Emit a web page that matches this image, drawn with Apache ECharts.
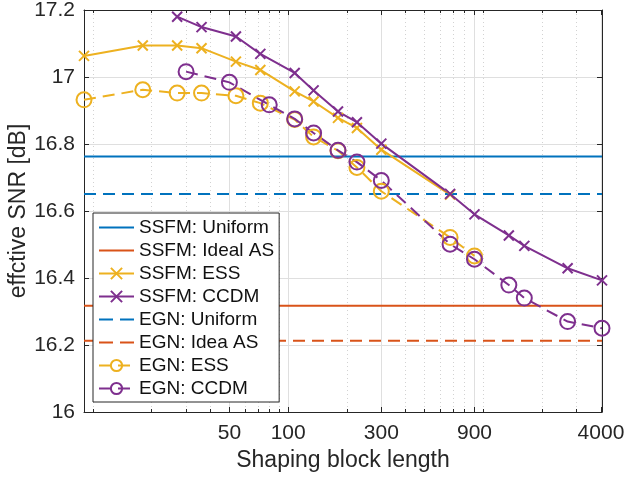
<!DOCTYPE html>
<html>
<head>
<meta charset="utf-8">
<script src="https://cdn.jsdelivr.net/npm/echarts@6/dist/echarts.min.js"></script>
<style>
html, body { margin: 0; padding: 0; background: #fff; }
#chart { width: 628px; height: 478px; }
</style>
</head>
<body>
<div id="chart"></div>
<script>
// block lengths and SNR values
const xRange = [9, 4050];
const majorTicks = [50, 100, 300, 900, 4000];
const minorTicks = [10, 20, 30, 40, 60, 70, 80, 90, 200, 400, 500, 600, 700, 800, 1000, 2000, 3000];

const ssfmUniform = 16.763;
const ssfmIdeal = 16.317;
const egnUniform = 16.651;
const egnIdeal = 16.213;

const ssfmEssLen = [9, 18, 27, 36, 54, 72, 108, 135, 180, 225, 300, 675];
const ssfmEss = [17.063, 17.094, 17.094, 17.086, 17.046, 17.021, 16.957, 16.927, 16.878, 16.848, 16.783, 16.649];

const ssfmCcdmLen = [27, 36, 54, 72, 108, 135, 180, 225, 300, 675, 900, 1350, 1620, 2700, 4050];
const ssfmCcdm = [17.180, 17.149, 17.121, 17.069, 17.012, 16.960, 16.897, 16.865, 16.801, 16.651, 16.590, 16.527, 16.496, 16.429, 16.393];

const egnEssLen = [9, 18, 27, 36, 54, 72, 108, 135, 180, 225, 300, 675, 900];
const egnEss = [16.932, 16.962, 16.952, 16.952, 16.944, 16.922, 16.873, 16.821, 16.780, 16.730, 16.659, 16.521, 16.466];

const egnCcdmLen = [30, 50, 80, 108, 135, 180, 225, 300, 675, 900, 1350, 1620, 2700, 4050];
const egnCcdm = [17.016, 16.984, 16.917, 16.875, 16.833, 16.781, 16.746, 16.691, 16.501, 16.456, 16.379, 16.340, 16.270, 16.250];

const blue = "#0072BD", red = "#D95319", yellow = "#EDB120", purple = "#7E2F8E";
const font = "'Liberation Sans', Arial, sans-serif";
const xMark = "path://M0,0L10,10M10,0L0,10";
// legend icons for the marker-less lines
const solidIcon = "path://M0,0L35,0L35,2L0,2Z";
const dashIcon = "path://M0,0L14,0L14,2L0,2ZM21,0L35,0L35,2L21,2Z";

// x axis is log scale -> plot log10 of the block length
const lg = v => Math.log10(v);
const pairs = (xs, ys) => xs.map((x, i) => [lg(x), ys[i]]);
const flat = v => [[lg(xRange[0]), v], [lg(xRange[1]), v]];

function lineSeries(name, data, color, dashed, marker) {
	const s = {
		name: name,
		type: "line",
		data: data,
		animation: false,
		lineStyle: { color: color, width: 2, type: dashed ? [12, 7] : "solid" }
	};
	if (marker === "x") {
		s.symbol = xMark;
		s.symbolSize = 10;
		s.itemStyle = { color: color, borderColor: color, borderWidth: 2 };
	} else if (marker === "o") {
		s.symbol = "circle";
		s.symbolSize = 15;
		s.itemStyle = { color: "rgba(0,0,0,0)", borderColor: color, borderWidth: 2 };
	} else {
		s.symbol = "none";
		s.itemStyle = { color: color };
	}
	return s;
}

const axisColor = "#262626";
const xBase = { type: "value", min: lg(xRange[0]), max: lg(xRange[1]), gridIndex: 0 };

const option = {
	animation: false,
	grid: { left: 84, right: 26, top: 10, bottom: 66, outerBoundsMode: "none", containLabel: false },
	legend: {
		orient: "vertical",
		left: 93,
		top: 213,
		backgroundColor: "#fff",
		borderColor: axisColor,
		borderWidth: 1,
		borderRadius: 0,
		padding: [5, 5, 4, 5],
		itemWidth: 35,
		itemHeight: 14,
		itemGap: 4,
		textStyle: { fontSize: 19, fontFamily: font, color: "#111", lineHeight: 19 },
		data: [
			{ name: "SSFM: Uniform", icon: solidIcon },
			{ name: "SSFM: Ideal AS", icon: solidIcon },
			"SSFM: ESS",
			"SSFM: CCDM",
			{ name: "EGN: Uniform", icon: dashIcon },
			{ name: "EGN: Idea AS", icon: dashIcon },
			"EGN: ESS",
			"EGN: CCDM"
		]
	},
	xAxis: [
		Object.assign({}, xBase, {
			position: "bottom",
			name: "Shaping block length",
			nameLocation: "middle",
			nameGap: 37,
			nameMoveOverlap: false,
			nameTextStyle: { fontSize: 23, fontFamily: font, color: axisColor },
			axisLine: { show: true, onZero: false, lineStyle: { color: axisColor } },
			axisTick: { show: true, inside: true, length: 5, customValues: majorTicks.map(lg), lineStyle: { color: axisColor } },
			axisLabel: {
				customValues: majorTicks.map(lg),
				formatter: v => String(Math.round(Math.pow(10, v))),
				fontSize: 21, fontFamily: font, color: axisColor, margin: 11
			},
			splitLine: { show: true, lineStyle: { color: "#dfdfdf", width: 1 } }
		}),
		Object.assign({}, xBase, {
			position: "bottom",
			axisLine: { show: false, onZero: false },
			axisTick: { show: true, inside: true, length: 3, customValues: minorTicks.map(lg), lineStyle: { color: axisColor } },
			axisLabel: { show: false },
			splitLine: { show: true, lineStyle: { color: "#d2d2d2", width: 1, type: [1, 3] } }
		}),
		Object.assign({}, xBase, {
			position: "top",
			axisLine: { show: true, onZero: false, lineStyle: { color: axisColor } },
			axisTick: { show: true, inside: true, length: 5, customValues: majorTicks.map(lg), lineStyle: { color: axisColor } },
			axisLabel: { show: false },
			splitLine: { show: false }
		}),
		Object.assign({}, xBase, {
			position: "top",
			axisLine: { show: false, onZero: false },
			axisTick: { show: true, inside: true, length: 3, customValues: minorTicks.map(lg), lineStyle: { color: axisColor } },
			axisLabel: { show: false },
			splitLine: { show: false }
		})
	],
	yAxis: [
		{
			type: "value",
			position: "left",
			min: 16,
			max: 17.2,
			interval: 0.2,
			name: "effctive SNR [dB]",
			nameLocation: "middle",
			nameGap: 54,
			nameMoveOverlap: false,
			nameTextStyle: { fontSize: 23, fontFamily: font, color: axisColor },
			axisLine: { show: true, onZero: false, lineStyle: { color: axisColor } },
			axisTick: { show: true, inside: true, length: 5, lineStyle: { color: axisColor } },
			axisLabel: { fontSize: 21, fontFamily: font, color: axisColor, margin: 9 },
			splitLine: { show: true, lineStyle: { color: "#dfdfdf", width: 1 } }
		},
		{
			type: "value",
			position: "right",
			min: 16,
			max: 17.2,
			interval: 0.2,
			axisLine: { show: true, onZero: false, lineStyle: { color: axisColor } },
			axisTick: { show: true, inside: true, length: 5, lineStyle: { color: axisColor } },
			axisLabel: { show: false },
			splitLine: { show: false }
		}
	],
	series: [
		lineSeries("SSFM: Uniform", flat(ssfmUniform), blue, false, null),
		lineSeries("SSFM: Ideal AS", flat(ssfmIdeal), red, false, null),
		lineSeries("SSFM: ESS", pairs(ssfmEssLen, ssfmEss), yellow, false, "x"),
		lineSeries("SSFM: CCDM", pairs(ssfmCcdmLen, ssfmCcdm), purple, false, "x"),
		lineSeries("EGN: Uniform", flat(egnUniform), blue, true, null),
		lineSeries("EGN: Idea AS", flat(egnIdeal), red, true, null),
		lineSeries("EGN: ESS", pairs(egnEssLen, egnEss), yellow, true, "o"),
		lineSeries("EGN: CCDM", pairs(egnCcdmLen, egnCcdm), purple, true, "o")
	]
};

const myChart = echarts.init(document.getElementById("chart"));
myChart.setOption(option);
</script>
</body>
</html>
